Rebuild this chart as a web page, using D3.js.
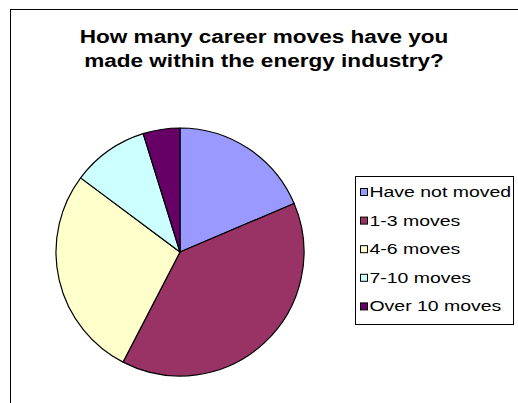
<!DOCTYPE html>
<html><head><meta charset="utf-8">
<script src="https://cdn.jsdelivr.net/npm/d3@7"></script>
<style>html,body{margin:0;padding:0;background:#fff;}svg{display:block;}</style>
</head><body>
<svg id="chart" width="518" height="403"></svg>
<script>
const titleLines = ["How many career moves have you", "made within the energy industry?"];
const categories = ["Have not moved", "1-3 moves", "4-6 moves", "7-10 moves", "Over 10 moves"];
const values = [18.6, 39, 27.6, 10, 4.8];
const colors = ["#9999FF", "#993366", "#FFFFCC", "#CCFFFF", "#660066"];

const FONT = "'Liberation Sans', Arial, sans-serif";
const svg = d3.select("#chart");
svg.append("rect").attr("x", 10.5).attr("y", 9.5).attr("width", 700).attr("height", 700)
  .attr("fill", "#fff").attr("stroke", "#000").attr("stroke-width", 1);

svg.append("g").selectAll("text").data(titleLines).join("text")
  .attr("transform", (d, i) => `translate(264,${43 + i * 24}) scale(1.22,1)`)
  .attr("text-anchor", "middle")
  .attr("font-family", FONT)
  .attr("font-weight", "bold").attr("font-size", 18.5)
  .attr("fill", "#000")
  .text(d => d);

const cx = 180, cy = 252, r = 124;
const pie = d3.pie().sort(null).value(d => d)(values);
const arc = d3.arc().innerRadius(0).outerRadius(r);
const color = d3.scaleOrdinal().domain(categories).range(colors);
svg.append("g").attr("transform", `translate(${cx},${cy})`)
  .selectAll("path").data(pie).join("path")
  .attr("d", arc).attr("fill", (d, i) => color(categories[i]))
  .attr("stroke", "#000").attr("stroke-width", 1.2).attr("stroke-linejoin", "round");

const lg = svg.append("g");
lg.append("rect").attr("x", 355.5).attr("y", 176.5).attr("width", 158).attr("height", 148)
  .attr("fill", "#fff").attr("stroke", "#000").attr("stroke-width", 1);
const y = d3.scalePoint().domain(categories).range([192, 306.4]);
const items = lg.selectAll("g.item").data(categories).join("g").attr("class", "item");
items.append("rect").attr("x", 360.5).attr("y", d => y(d) - 3.5).attr("width", 7).attr("height", 7)
  .attr("fill", d => color(d)).attr("stroke", "#000").attr("stroke-width", 1);
items.append("text").attr("transform", d => `translate(369.5,${y(d) + 5}) scale(1.39,1)`)
  .attr("font-family", FONT).attr("font-size", 14).attr("fill", "#000")
  .text(d => d);
</script>
</body></html>
